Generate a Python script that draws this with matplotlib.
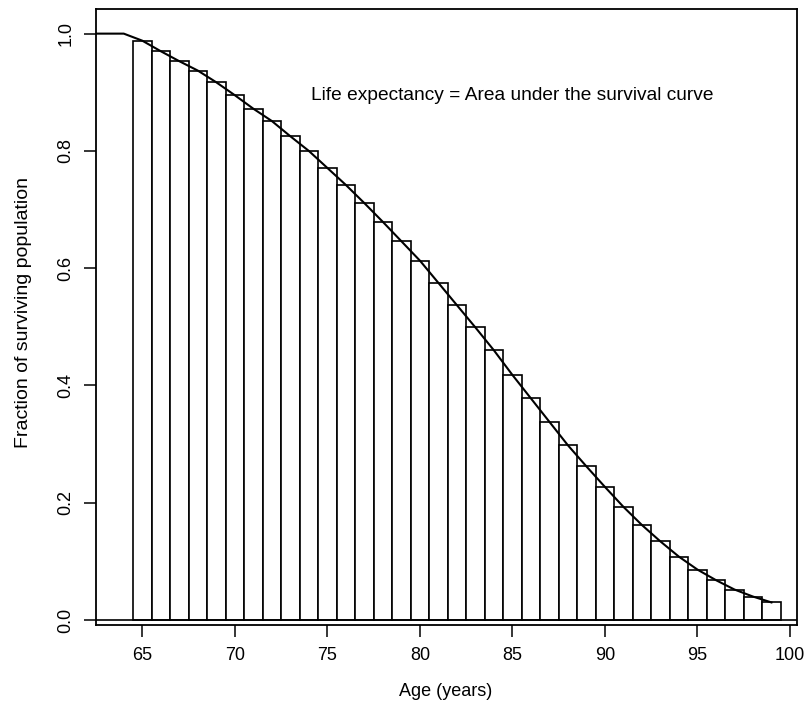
import numpy as np
import matplotlib
matplotlib.use('Agg')
import matplotlib.pyplot as plt

plt.rcParams['font.family'] = ['Liberation Sans', 'DejaVu Sans']

# bar heights: surviving fraction at each age (midpoint of each 1-year bar)
ages = [65, 66, 67, 68, 69, 70, 71, 72, 73, 74, 75, 76, 77, 78, 79, 80, 81, 82,
        83, 84, 85, 86, 87, 88, 89, 90, 91, 92, 93, 94, 95, 96, 97, 98, 99]
survival = [0.988, 0.970, 0.953, 0.937, 0.917, 0.895, 0.872, 0.851, 0.825,
            0.800, 0.771, 0.742, 0.711, 0.679, 0.646, 0.613, 0.575, 0.537,
            0.499, 0.460, 0.418, 0.378, 0.338, 0.298, 0.262, 0.227, 0.193,
            0.162, 0.134, 0.108, 0.086, 0.068, 0.052, 0.040, 0.030]

# survival curve: flat at 1.0 before 65
early_ages = [62, 63, 64]
early_vals = [1.0, 1.0, 1.0]
curve_ages = early_ages + ages
curve_vals = early_vals + survival

xticks = [65, 70, 75, 80, 85, 90, 95, 100]
yticks = [0.0, 0.2, 0.4, 0.6, 0.8, 1.0]

fig = plt.figure(figsize=(8.07, 7.17), dpi=100)
ax = fig.add_axes([96 / 807, 92 / 717, 701 / 807, 616 / 717])

ax.bar(ages, survival, width=1.0, color='white', edgecolor='black', linewidth=1.2)
ax.plot(curve_ages, curve_vals, color='black', linewidth=1.5)
ax.axhline(0, color='black', linewidth=1.2)

ax.set_xlim(62.5, 100.38)
ax.set_ylim(-0.0085, 1.042)

ax.set_xticks(xticks)
ax.set_xticklabels([str(t) for t in xticks])
ax.set_yticks(yticks)
ax.set_yticklabels(['%.1f' % t for t in yticks])
ax.tick_params(direction='out', length=8.5, width=1.1, labelsize=13, pad=7, colors='black')
ax.tick_params(axis='y', labelrotation=90)
for lab in ax.get_yticklabels():
    lab.set_va('center')

for s in ax.spines.values():
    s.set_linewidth(1.3)
    s.set_color('black')

ax.text(85, 0.895, 'Life expectancy = Area under the survival curve',
        ha='center', va='center', fontsize=13.8)

fig.text(446 / 807, 1 - 692 / 717, 'Age (years)', ha='center', va='center', fontsize=13)
fig.text(24 / 807, 1 - 313 / 717, 'Fraction of surviving population',
         ha='center', va='center', rotation=90, fontsize=14)

fig.savefig('out.png', dpi=100)
